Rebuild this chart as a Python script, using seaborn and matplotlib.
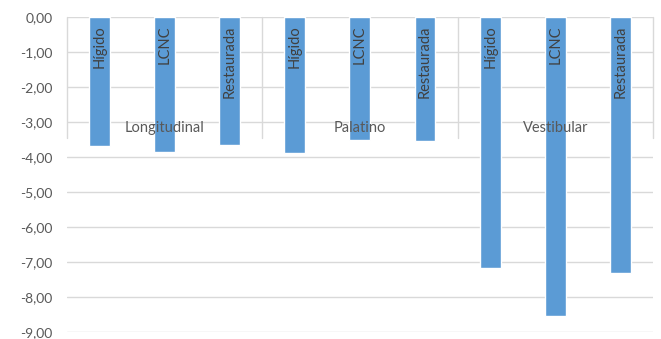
import matplotlib
matplotlib.use("Agg")
import matplotlib.pyplot as plt
import seaborn as sns
import pandas as pd
from matplotlib.ticker import FuncFormatter

# Data
regions = ["Longitudinal", "Palatino", "Vestibular"]
conditions = ["Hígido", "LCNC", "Restaurada"]
longitudinal_vals = [-3.68, -3.85, -3.65]
palatino_vals = [-3.90, -3.53, -3.55]
vestibular_vals = [-7.18, -8.55, -7.32]
y_ticks = [0, -1, -2, -3, -4, -5, -6, -7, -8, -9]

rows = []
for reg, vals in zip(regions, [longitudinal_vals, palatino_vals, vestibular_vals]):
    for cond, v in zip(conditions, vals):
        rows.append({"region": reg, "condition": cond, "key": f"{reg}|{cond}", "value": v})
df = pd.DataFrame(rows)
order = list(df["key"])

sns.set_theme(style="white")
plt.rcParams["font.family"] = ["Lato", "DejaVu Sans"]

fig = plt.figure(figsize=(6.61, 3.39), dpi=100)
ax = fig.add_axes([0.101, 0.021, 0.887, 0.929])

bar_color = "#5B9BD5"
grid_color = "#D9D9D9"
text_color = "#595959"

sns.barplot(data=df, x="key", y="value", order=order, color=bar_color,
            width=0.32, saturation=1, ax=ax, zorder=3)

ax.set_ylim(-9, 0)
ax.set_xlim(-0.5, len(order) - 0.5)
ax.set_yticks(y_ticks)
ax.yaxis.set_major_formatter(FuncFormatter(lambda v, p: f"{v:.2f}".replace(".", ",")))
ax.tick_params(axis="y", labelsize=10, colors=text_color, length=0, pad=10)
ax.set_xticks([])
ax.set_xlabel("")
ax.set_ylabel("")
for s in ax.spines.values():
    s.set_visible(False)
ax.grid(axis="y", color=grid_color, lw=1, zorder=0)
ax.grid(axis="x", visible=False)

# category separators (multi-level axis)
for xs in [-0.5, 2.5, 5.5, 8.5]:
    ax.plot([xs, xs], [0, -3.45], color=grid_color, lw=1, zorder=1, clip_on=False)

# inner labels inside bars
for i, key in enumerate(order):
    cond = key.split("|")[1]
    ax.text(i, -0.25, cond, rotation=90, ha="center", va="top",
            fontsize=10.5, color="#404040", zorder=4)

# group labels
for gi, reg in enumerate(regions):
    ax.text(gi * 3 + 1, -3.17, reg, ha="center", va="center",
            fontsize=10.5, color=text_color, zorder=4)

fig.savefig("out.png", dpi=100)
